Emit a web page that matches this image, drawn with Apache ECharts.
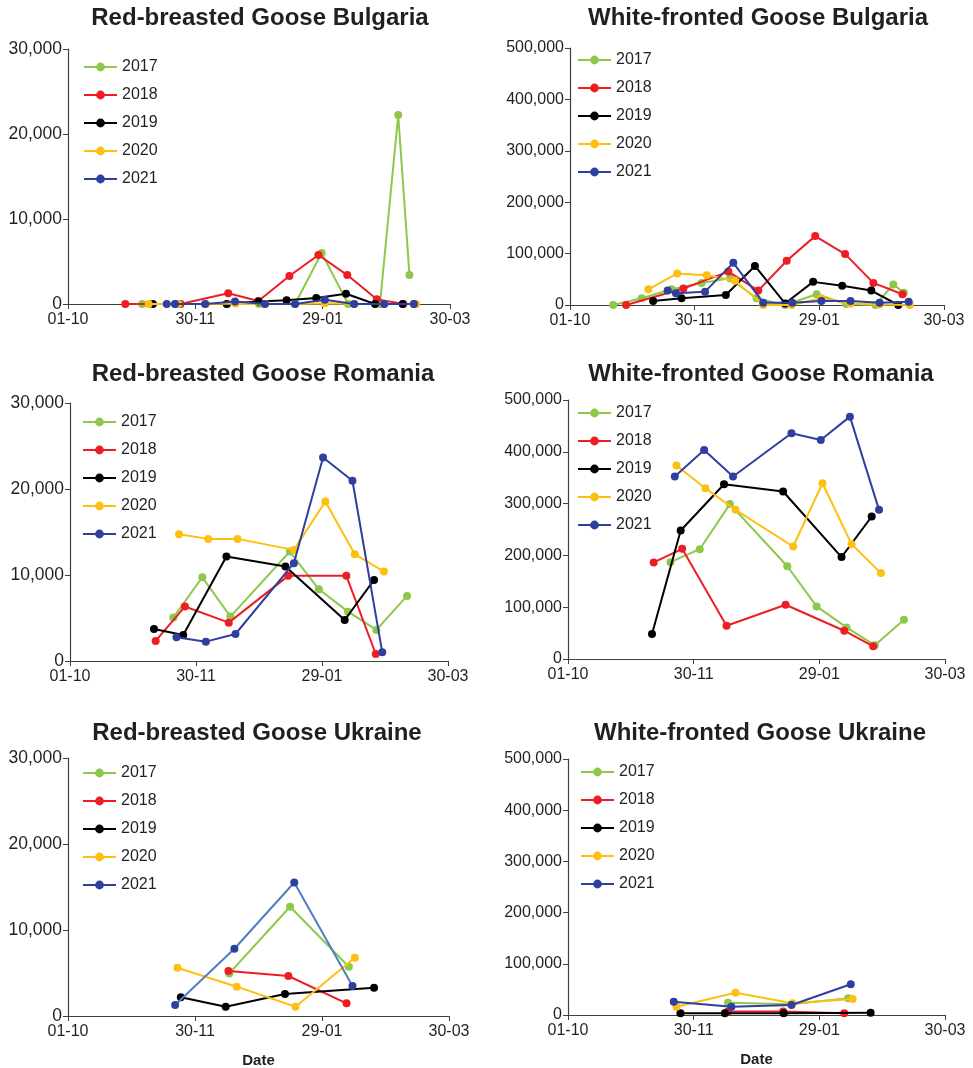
<!DOCTYPE html>
<html>
<head>
<meta charset="utf-8">
<script src="https://cdn.jsdelivr.net/npm/echarts@6/dist/echarts.min.js"></script>
<style>
html,body{margin:0;padding:0;background:#fff;}
#chart{width:973px;height:1068px;}
</style>
</head>
<body>
<div id="chart"></div>
<script>
// x values are days since 01-10 (01 October)
const xTickLabels = ['01-10', '30-11', '29-01', '30-03'];
const years = ['2017', '2018', '2019', '2020', '2021'];
const panelTitles = [
  'Red-breasted Goose Bulgaria', 'White-fronted Goose Bulgaria',
  'Red-breasted Goose Romania', 'White-fronted Goose Romania',
  'Red-breasted Goose Ukraine', 'White-fronted Goose Ukraine'
];

// Red-breasted Goose Bulgaria
const rbBg2017 = [[35,0],[53,0],[75,0],[90,0],[107,0],[119.5,6000],[132,0],[147,0],[155.6,22250],[160.9,3400]];
const rbBg2018 = [[27,0],[53,0],[75.5,1260],[89.7,350],[104.3,3300],[118,5760],[131.6,3400],[145.5,550],[158,0],[163,0]];
const rbBg2019 = [[40,0],[51,0],[74.8,0],[89.7,300],[103,450],[117,700],[131,1200],[144.7,0],[157.7,0]];
const rbBg2020 = [[38,0],[52,0],[65,0],[79,50],[93,0],[107,0],[121,100],[135,0],[149,0],[164,0]];
const rbBg2021 = [[46.5,0],[50.4,0],[64.6,0],[78.7,300],[92.8,0],[107,0],[121,500],[134.8,0],[149,0],[163,0]];

// White-fronted Goose Bulgaria
const wfBg2017 = [[20.8,0],[34.5,13000],[48.9,30500],[63.3,43000],[77,52000],[89.8,13000],[103.5,0],[118.7,21000],[133,2000],[147,0],[155.6,40000],[160.7,24000]];
const wfBg2018 = [[27,0],[54.6,32000],[76.2,65000],[90.6,28000],[104.3,86000],[118,134000],[132.4,99000],[146,43000],[160,21000]];
const wfBg2019 = [[40,8000],[53.7,13000],[75,19500],[89,76000],[103.5,3000],[117,45000],[131,37500],[145,28000],[158,0]];
const wfBg2020 = [[37.7,30500],[51.6,61500],[65.8,58000],[79.4,47000],[93,0],[106.7,0],[121,13000],[135,3000],[149,1000],[163.6,0]];
const wfBg2021 = [[47,28000],[51,23000],[65,26000],[78.6,82000],[93,4500],[107,4500],[121,8000],[135,8000],[149,4500],[163,6500]];

// Red-breasted Goose Romania
const rbRo2017 = [[49.2,5050],[63,9740],[76.4,5160],[104.7,12730],[118.5,8340],[132.4,5740],[145.9,3610],[160.5,7570]];
const rbRo2018 = [[40.8,2330],[54.7,6330],[75.6,4460],[103.9,9900],[131.6,9900],[145.6,815]];
const rbRo2019 = [[40,3730],[53.9,3030],[74.5,12150],[102.6,10980],[130.8,4770],[144.8,9430]];
const rbRo2020 = [[51.9,14750],[65.8,14200],[79.8,14200],[106.6,12920],[121.6,18550],[135.6,12420],[149.5,10400]];
const rbRo2021 = [[50.7,2760],[64.7,2250],[78.8,3140],[106.6,11370],[120.5,23670],[134.5,20960],[148.7,1010]];

// White-fronted Goose Romania
const wfRo2017 = [[48.9,187000],[62.9,212000],[77.3,299000],[104.7,179000],[118.7,101500],[133,61000],[146.5,26400],[160.4,75800]];
const wfRo2018 = [[40.9,186400],[54.5,212700],[75.7,64300],[103.9,104800],[131.9,54600],[145.7,24400]];
const wfRo2019 = [[40.1,48200],[53.8,248000],[74.5,337400],[102.7,323300],[130.6,196700],[145,275100]];
const wfRo2020 = [[51.8,373400],[65.6,329700],[80,287900],[107.5,217200],[121.5,339300],[135.4,221700],[149.4,165800]];
const wfRo2021 = [[51,352200],[65,403600],[78.8,352200],[106.7,435800],[120.7,422900],[134.6,467900],[148.5,287900]];

// Red-breasted Goose Ukraine
const rbUa2017 = [[76.2,4950],[104.9,12700],[132.7,5730]];
const rbUa2018 = [[75.8,5230],[104.1,4650],[131.6,1470]];
const rbUa2019 = [[53.3,2170],[74.5,1080],[102.5,2550],[144.6,3290]];
const rbUa2020 = [[51.7,5610],[79.7,3410],[107.5,1080],[135.5,6770]];
const rbUa2021 = [[50.6,1280],[78.6,7820],[106.9,15520],[134.4,3480]];

// White-fronted Goose Ukraine
const wfUa2017 = [[76.4,24000],[106.7,21000],[133.8,32600]];
const wfUa2018 = [[76.4,7000],[102.7,7000],[131.9,3300]];
const wfUa2019 = [[53.7,3300],[74.9,3300],[103,3300],[144.5,4500]];
const wfUa2020 = [[51.8,16300],[80,43600],[107.2,22800],[135.9,31300]];
const wfUa2021 = [[50.5,26000],[78,16300],[106.7,19500],[135,60000]];

const panelData = [
  [rbBg2017, rbBg2018, rbBg2019, rbBg2020, rbBg2021],
  [wfBg2017, wfBg2018, wfBg2019, wfBg2020, wfBg2021],
  [rbRo2017, rbRo2018, rbRo2019, rbRo2020, rbRo2021],
  [wfRo2017, wfRo2018, wfRo2019, wfRo2020, wfRo2021],
  [rbUa2017, rbUa2018, rbUa2019, rbUa2020, rbUa2021],
  [wfUa2017, wfUa2018, wfUa2019, wfUa2020, wfUa2021]
];
const yMaxRB = 30000, yStepRB = 10000;
const yMaxWF = 500000, yStepWF = 100000;

// ---- layout / style ----
const FONT = '"Liberation Sans", Arial, Helvetica, sans-serif';
const colors = ['#8dc84b', '#ee1d24', '#000000', '#fdc010', '#2f3f9f'];
const layout = [
  {grid:{left:68, top:49, width:382, height:255}, title:{x:260, y:6}, legend:{left:83, top:59}},
  {grid:{left:570, top:48, width:374, height:257}, title:{x:758, y:6}, legend:{left:577, top:52}},
  {grid:{left:70, top:403, width:378, height:258}, title:{x:263, y:362}, legend:{left:82, top:414}},
  {grid:{left:568, top:400, width:377, height:259}, title:{x:761, y:362}, legend:{left:577, top:405}},
  {grid:{left:68, top:758, width:381, height:258}, title:{x:257, y:721}, legend:{left:82, top:765}},
  {grid:{left:568, top:759, width:377, height:256}, title:{x:760, y:721}, legend:{left:580, top:764}}
];

const option = {
  backgroundColor: '#fff',
  animation: false,
  textStyle: {fontFamily: FONT},
  title: [], legend: [], grid: [], xAxis: [], yAxis: [], series: []
};

layout.forEach((L, i) => {
  const isWF = i % 2 === 1;
  option.title.push({
    text: panelTitles[i], left: L.title.x, top: L.title.y, textAlign: 'center', padding: 0,
    textStyle: {fontFamily: FONT, fontSize: 24, fontWeight: 'bold', color: '#231f20'}
  });
  option.grid.push(Object.assign({containLabel: false, outerBoundsMode: 'none'}, L.grid));
  option.legend.push({
    data: years, orient: 'vertical', left: L.legend.left, top: L.legend.top, padding: 0,
    itemWidth: 33, itemHeight: 11, itemGap: 12, selectedMode: false,
    textStyle: {fontFamily: FONT, fontSize: 16, color: '#231f20', lineHeight: 16}
  });
  const bottomRow = i >= 4;
  option.xAxis.push({
    type: 'value', gridIndex: i, min: 0, max: 180, interval: 60,
    name: bottomRow ? 'Date' : '', nameLocation: 'middle', nameGap: 37,
    nameTextStyle: {fontFamily: FONT, fontSize: 15, fontWeight: 'bold', color: '#231f20'},
    axisLine: {show: true, lineStyle: {color: '#404040', width: 1.2}},
    axisTick: {show: true, length: 5, lineStyle: {color: '#404040'}},
    splitLine: {show: false},
    axisLabel: {fontFamily: FONT, fontSize: 16, color: '#231f20', margin: 8,
      formatter: v => xTickLabels[Math.round(v / 60)]}
  });
  option.yAxis.push({
    type: 'value', gridIndex: i, min: 0,
    max: isWF ? yMaxWF : yMaxRB, interval: isWF ? yStepWF : yStepRB,
    axisLine: {show: true, lineStyle: {color: '#404040', width: 1.2}},
    axisTick: {show: true, length: 5, lineStyle: {color: '#404040'}},
    splitLine: {show: false},
    axisLabel: {fontFamily: FONT, fontSize: isWF ? 16 : 17.5, color: '#231f20', margin: 6,
      formatter: v => v.toLocaleString('en-US')}
  });
  panelData[i].forEach((d, k) => {
    let lineColor = colors[k];
    if (i === 4 && k === 4) lineColor = '#4f7ec6';
    option.series.push({
      name: years[k], type: 'line', xAxisIndex: i, yAxisIndex: i, data: d,
      symbol: 'circle', symbolSize: 8, showSymbol: true,
      itemStyle: {color: colors[k]},
      lineStyle: {color: lineColor, width: 2},
      z: 2 + k
    });
  });
});

const chart = echarts.init(document.getElementById('chart'), null, {renderer: 'canvas'});
chart.setOption(option);
</script>
</body>
</html>
